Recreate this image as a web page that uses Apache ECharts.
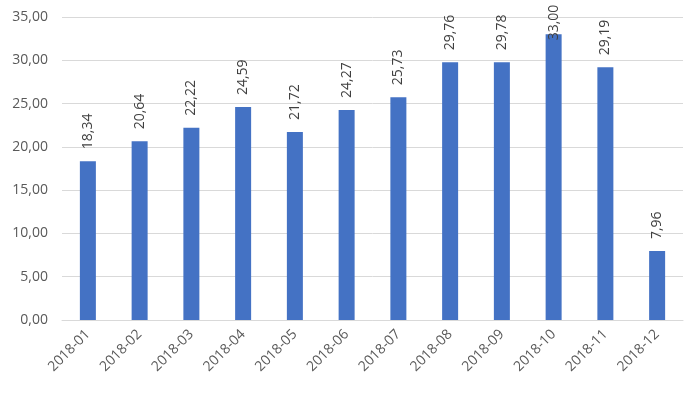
<!DOCTYPE html>
<html><head><meta charset="utf-8">
<script src="https://cdn.jsdelivr.net/npm/echarts@6/dist/echarts.min.js"></script>
<style>html,body{margin:0;padding:0;background:#fff}#c{width:700px;height:394px}</style>
</head><body><div id="c"></div>
<script>
const categories = ['2018-01','2018-02','2018-03','2018-04','2018-05','2018-06','2018-07','2018-08','2018-09','2018-10','2018-11','2018-12'];
const values = [18.34,20.64,22.22,24.59,21.72,24.27,25.73,29.76,29.78,33.00,29.19,7.96];
const yTicks = {min:0, max:35, interval:5};

const fmt = v => v.toFixed(2).replace('.', ',');
const chart = echarts.init(document.getElementById('c'));
const data = values.map(v => {
  const item = {value: v};
  if (v > 31) item.label = {position: ['50%', 6]};
  return item;
});
chart.setOption({
  animation: false,
  grid: {left: 62, right: 17, top: 17, bottom: 74},
  xAxis: {
    type: 'category', data: categories,
    axisLine: {lineStyle: {color: '#d9d9d9'}},
    axisTick: {show: false},
    axisLabel: {rotate: 45, color: '#595959', fontSize: 14, fontFamily: 'Open Sans', margin: 12, interval: 0}
  },
  yAxis: {
    type: 'value', min: yTicks.min, max: yTicks.max, interval: yTicks.interval,
    axisLine: {show: false}, axisTick: {show: false},
    splitLine: {lineStyle: {color: '#d9d9d9'}},
    axisLabel: {color: '#595959', fontSize: 14, fontFamily: 'Open Sans', margin: 14, formatter: v => fmt(v)}
  },
  series: [{
    type: 'bar', data: data, barWidth: 16,
    itemStyle: {color: '#4472c4'},
    label: {show: true, position: 'top', rotate: 90, align: 'left', verticalAlign: 'middle', distance: 12,
      color: '#404040', fontSize: 14, fontFamily: 'Open Sans', formatter: p => fmt(p.value)}
  }]
});
</script></body></html>
